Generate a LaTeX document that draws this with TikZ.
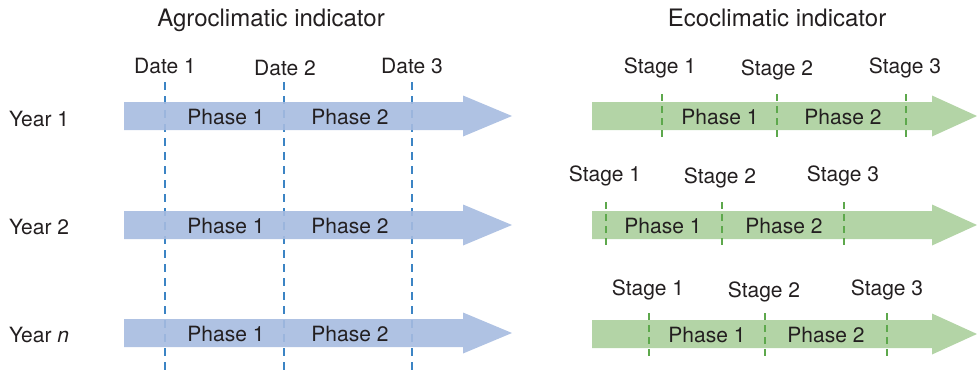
\documentclass[tikz,border=0pt]{standalone}
\usepackage{fontspec}
\setmainfont{TeX Gyre Heros}
\definecolor{agrofill}{HTML}{A6BBE0}
\definecolor{agroline}{HTML}{3C84C4}
\definecolor{ecofill}{HTML}{B3D4A6}
\definecolor{ecoline}{HTML}{5DA84C}
\definecolor{ink}{HTML}{231F20}
% fat horizontal arrow: #1 left x, #2 head base x, #3 tip x, #4 centre y, #5 fill
\newcommand\bandarrow[5]{%
  \fill[#5] (#1,#4-14) -- (#2,#4-14) -- (#2,#4-20.5) -- (#3,#4)
    -- (#2,#4+20.5) -- (#2,#4+14) -- (#1,#4+14) -- cycle;}
\begin{document}
\begin{tikzpicture}[x=1pt,y=-1pt,
  lbl/.style={anchor=base,inner sep=0pt,text=ink,font=\fontsize{21}{24}\selectfont},
  ttl/.style={anchor=base,inner sep=0pt,text=ink,font=\fontsize{24}{28}\selectfont},
  datemark/.style={draw=agroline,line width=1.1pt,dash pattern=on 8pt off 6pt},
  stagemark/.style={draw=ecoline,line width=1.1pt,dash pattern=on 7pt off 5pt}]
\useasboundingbox (0,0) rectangle (977,372);

% titles
\node[ttl] (tagro) at (271,27) {Agroclimatic indicator};
\node[ttl] (teco) at (777,27) {Ecoclimatic indicator};

% year labels
\node[lbl] (y1) at (39,126) {Year 1};
\node[lbl] (y2) at (39,234) {Year 2};
\node[lbl] (yn) at (39,342) {Year \textit{n}};

% fixed calendar dates
\node[lbl] (d1) at (165,73) {Date 1};
\node[lbl] (d2) at (285,75) {Date 2};
\node[lbl] (d3) at (412,73) {Date 3};
\coordinate (d1top) at (165,82);  \coordinate (d1bot) at (165,372);
\coordinate (d2top) at (284,82);  \coordinate (d2bot) at (284,372);
\coordinate (d3top) at (412,82);  \coordinate (d3bot) at (412,372);
\draw[datemark] (d1top) -- (d1bot);
\draw[datemark] (d2top) -- (d2bot);
\draw[datemark] (d3top) -- (d3bot);

% agroclimatic arrows
\foreach \yc in {116,225,333}{
  \bandarrow{124}{463}{512}{\yc}{agrofill,fill opacity=0.9}
}
\foreach \yc/\nm in {116/a,225/b,333/c}{
  \node[lbl] (\nm p1) at (226,\yc+8) {Phase 1};
  \node[lbl] (\nm p2) at (350,\yc+8) {Phase 2};
}

% ecoclimatic arrows, stages shift from year to year
\bandarrow{592}{932}{977}{116}{ecofill}
\bandarrow{592}{932}{977}{225}{ecofill}
\bandarrow{592}{932}{977}{334}{ecofill}

% row 1
\node[lbl] (s11) at (660,73) {Stage 1};
\node[lbl] (s12) at (777,75) {Stage 2};
\node[lbl] (s13) at (905,73) {Stage 3};
\node[lbl] (r1p1) at (720,124) {Phase 1};
\node[lbl] (r1p2) at (843,124) {Phase 2};
\coordinate (m11a) at (662,94);  \coordinate (m11b) at (662,138);
\coordinate (m12a) at (777,94);  \coordinate (m12b) at (777,138);
\coordinate (m13a) at (906,94);  \coordinate (m13b) at (906,138);
\draw[stagemark] (m11a) -- (m11b);
\draw[stagemark] (m12a) -- (m12b);
\draw[stagemark] (m13a) -- (m13b);

% row 2
\node[lbl] (s21) at (605,181) {Stage 1};
\node[lbl] (s22) at (720,183) {Stage 2};
\node[lbl] (s23) at (843,181) {Stage 3};
\node[lbl] (r2p1) at (663,233) {Phase 1};
\node[lbl] (r2p2) at (784,233) {Phase 2};
\coordinate (m21a) at (606,202);  \coordinate (m21b) at (606,246);
\coordinate (m22a) at (722,202);  \coordinate (m22b) at (722,246);
\coordinate (m23a) at (844,202);  \coordinate (m23b) at (844,246);
\draw[stagemark] (m21a) -- (m21b);
\draw[stagemark] (m22a) -- (m22b);
\draw[stagemark] (m23a) -- (m23b);

% row 3
\node[lbl] (s31) at (648,295) {Stage 1};
\node[lbl] (s32) at (764,297) {Stage 2};
\node[lbl] (s33) at (887,295) {Stage 3};
\node[lbl] (r3p1) at (707,342) {Phase 1};
\node[lbl] (r3p2) at (826,342) {Phase 2};
\coordinate (m31a) at (649,313);  \coordinate (m31b) at (649,358);
\coordinate (m32a) at (765,313);  \coordinate (m32b) at (765,358);
\coordinate (m33a) at (887,313);  \coordinate (m33b) at (887,358);
\draw[stagemark] (m31a) -- (m31b);
\draw[stagemark] (m32a) -- (m32b);
\draw[stagemark] (m33a) -- (m33b);
\end{tikzpicture}
\end{document}
